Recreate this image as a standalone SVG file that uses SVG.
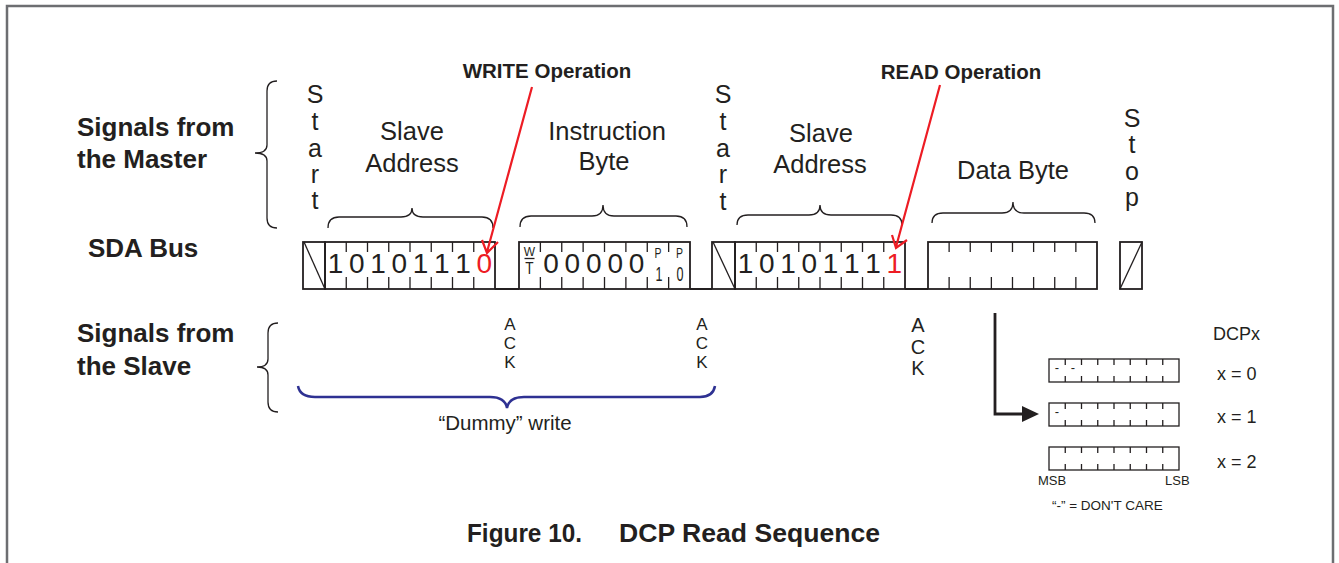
<svg xmlns="http://www.w3.org/2000/svg" width="1339" height="563" viewBox="0 0 1339 563">
<style>
  .t{font-family:"Liberation Sans",Arial,sans-serif;fill:#231f20}
  .b{font-weight:bold}
  .lbl{font-size:26px}
  .seg{font-size:25.5px;text-anchor:middle}
  .vl{font-size:25px;text-anchor:middle}
  .dg{font-size:28px;text-anchor:middle}
  .ack{font-size:17px;text-anchor:middle}
  .box{fill:none;stroke:#231f20;stroke-width:1.8}
  .tk{stroke:#231f20;stroke-width:1.3}
  .br{fill:none;stroke:#231f20;stroke-width:1.3}
  .red{fill:#ed1c24}
  .rl{fill:none;stroke:#ed1c24;stroke-width:2.2}
  .sm{fill:none;stroke:#231f20;stroke-width:1.3}
</style>
<defs>
  <path id="tk8a" d="M21.25,0v10M42.5,0v10M63.75,0v10M85,0v10M106.25,0v10M127.5,0v10M148.75,0v10M21.25,35v12M42.5,35v12M63.75,35v12M85,35v12M106.25,35v12M127.5,35v12M148.75,35v12"/>
  <path id="tks" d="M16.25,0v6M32.5,0v6M48.75,0v6M65,0v6M81.25,0v6M97.5,0v6M113.75,0v6M16.25,17v6M32.5,17v6M48.75,17v6M65,17v6M81.25,17v6M97.5,17v6M113.75,17v6"/>
</defs>

<g id="frame"><path d="M7,563V6H1333V563" fill="none" stroke="#6d6e71" stroke-width="2.5"/></g>

<g id="left-labels">
  <text class="t b lbl" x="77" y="136">Signals from</text>
  <text class="t b lbl" x="77" y="168">the Master</text>
  <text class="t b lbl" x="88" y="257">SDA Bus</text>
  <text class="t b lbl" x="77" y="342">Signals from</text>
  <text class="t b lbl" x="77" y="375">the Slave</text>
  <path class="br" d="M277,81Q267,81 267,91L267,145Q267,153 255,153Q267,153 267,161L267,218Q267,228 277,228"/>
  <path class="br" d="M278,323Q268,323 268,333L268,359Q268,367 257,367Q268,367 268,375L268,402Q268,412 278,412"/>
</g>

<g id="start1">
  <text class="t vl" x="315" y="103">S</text><text class="t vl" x="315" y="130">t</text><text class="t vl" x="315" y="157">a</text><text class="t vl" x="315" y="183">r</text><text class="t vl" x="315" y="209">t</text>
  <rect class="box" x="303" y="242" width="22" height="47"/>
  <line class="tk" x1="304" y1="242" x2="325" y2="289"/>
</g>

<g id="slave-address-1">
  <text class="t seg" x="412" y="140">Slave</text>
  <text class="t seg" x="412" y="172">Address</text>
  <path class="br" d="M328,228Q328,217 339,217L401,217Q412,217 412,208Q412,217 423,217L482,217Q493,217 493,228"/>
  <rect class="box" x="325" y="242" width="170" height="47"/>
  <use href="#tk8a" class="tk" transform="translate(325,242)"/>
  <g class="t dg">
    <text x="335.6" y="273">1</text><text x="356.9" y="273">0</text><text x="378.1" y="273">1</text><text x="399.4" y="273">0</text><text x="420.6" y="273">1</text><text x="441.9" y="273">1</text><text x="463.1" y="273">1</text><text class="red" x="484.4" y="273">0</text>
  </g>
</g>

<g id="instruction-byte">
  <text class="t seg" x="607" y="140">Instruction</text>
  <text class="t seg" x="604" y="170">Byte</text>
  <path class="br" d="M520,227Q520,216 531,216L592,216Q603,216 603,205Q603,216 614,216L676,216Q687,216 687,227"/>
  <rect class="box" x="519" y="242" width="171" height="47"/>
  <use href="#tk8a" class="tk" transform="translate(519,242) scale(1.006,1)"/>
  <text class="t" x="529.5" y="256" font-size="12" text-anchor="middle">W</text>
  <line class="tk" x1="524.5" y1="258.5" x2="534.5" y2="258.5" stroke-width="1"/>
  <text class="t" transform="translate(529.5,274) scale(0.85,1)" font-size="16" text-anchor="middle">T</text>
  <g class="t dg">
    <text x="551.1" y="273">0</text><text x="572.4" y="273">0</text><text x="593.8" y="273">0</text><text x="615.2" y="273">0</text><text x="636.6" y="273">0</text>
  </g>
  <text class="t" transform="translate(658,258) scale(0.75,1)" font-size="14" text-anchor="middle">P</text>
  <text class="t" transform="translate(659,281) scale(0.6,1)" font-size="21" text-anchor="middle">1</text>
  <text class="t" transform="translate(679.5,258) scale(0.75,1)" font-size="14" text-anchor="middle">P</text>
  <text class="t" transform="translate(680,281) scale(0.6,1)" font-size="21" text-anchor="middle">0</text>
</g>

<g id="start2">
  <text class="t vl" x="723" y="103">S</text><text class="t vl" x="723" y="130">t</text><text class="t vl" x="723" y="157">a</text><text class="t vl" x="723" y="183">r</text><text class="t vl" x="723" y="210">t</text>
  <rect class="box" x="712" y="242" width="23" height="47"/>
  <line class="tk" x1="713" y1="242" x2="735" y2="289"/>
</g>

<g id="slave-address-2">
  <text class="t seg" x="821" y="142">Slave</text>
  <text class="t seg" x="820" y="173">Address</text>
  <path class="br" d="M737,225Q737,215 748,215L809,215Q820,215 820,205Q820,215 831,215L891,215Q902,215 902,225"/>
  <rect class="box" x="735" y="242" width="170" height="47"/>
  <use href="#tk8a" class="tk" transform="translate(735,242)"/>
  <g class="t dg">
    <text x="745.6" y="273">1</text><text x="766.9" y="273">0</text><text x="788.1" y="273">1</text><text x="809.4" y="273">0</text><text x="830.6" y="273">1</text><text x="851.9" y="273">1</text><text x="873.1" y="273">1</text><text class="red" x="894.4" y="273">1</text>
  </g>
</g>

<g id="data-byte">
  <text class="t seg" x="1013" y="179">Data Byte</text>
  <path class="br" d="M932,223Q932,213 943,213L1002,213Q1013,213 1013,202Q1013,213 1024,213L1084,213Q1095,213 1095,223"/>
  <rect class="box" x="928" y="242" width="169" height="47"/>
  <use href="#tk8a" class="tk" transform="translate(928,242) scale(0.994,1)"/>
</g>

<g id="stop">
  <text class="t vl" x="1132" y="127">S</text><text class="t vl" x="1132" y="153">t</text><text class="t vl" x="1132" y="180">o</text><text class="t vl" x="1132" y="206">p</text>
  <rect class="box" x="1120" y="242" width="22" height="47"/>
  <line class="tk" x1="1120" y1="289" x2="1142" y2="242"/>
</g>

<g id="bus-low">
  <path class="box" d="M495,289H519M690,289H712M905,289H928"/>
</g>

<g id="acks">
  <g class="t ack"><text x="510" y="330">A</text><text x="510" y="349">C</text><text x="510" y="368">K</text></g>
  <g class="t ack"><text x="702" y="330">A</text><text x="702" y="349">C</text><text x="702" y="368">K</text></g>
  <g class="t ack"><text x="918" y="332" style="font-size:20px">A</text><text x="918" y="354" style="font-size:20px">C</text><text x="918" y="375" style="font-size:20px">K</text></g>
</g>

<g id="dummy-write">
  <path d="M298,386Q300,397 315,397L490,397Q505,397 507,408Q509,397 524,397L700,397Q713,397 715,386" fill="none" stroke="#2e3192" stroke-width="2.5"/>
  <text class="t" x="505" y="430" font-size="20.5" text-anchor="middle">“Dummy” write</text>
</g>

<g id="write-op">
  <text class="t b" x="547" y="78" font-size="20.5" text-anchor="middle">WRITE Operation</text>
</g>
<g id="read-op">
  <text class="t b" x="961" y="79" font-size="20.5" text-anchor="middle">READ Operation</text>
</g>

<g id="dcp-registers">
  <text class="t" x="1213" y="340" font-size="18">DCPx</text>
  <rect class="sm" x="1049" y="359" width="130" height="23"/>
  <use href="#tks" class="tk" transform="translate(1049,359)"/>
  <text class="t" x="1057" y="372" font-size="13" text-anchor="middle">-</text>
  <text class="t" x="1073" y="372" font-size="13" text-anchor="middle">-</text>
  <text class="t" x="1217" y="380" font-size="18">x = 0</text>
  <rect class="sm" x="1049" y="403" width="130" height="23"/>
  <use href="#tks" class="tk" transform="translate(1049,403)"/>
  <text class="t" x="1057" y="416" font-size="13" text-anchor="middle">-</text>
  <text class="t" x="1217" y="423" font-size="18">x = 1</text>
  <rect class="sm" x="1049" y="447" width="130" height="23"/>
  <use href="#tks" class="tk" transform="translate(1049,447)"/>
  <text class="t" x="1217" y="468" font-size="18">x = 2</text>
  <text class="t" x="1038" y="485" font-size="13">MSB</text>
  <text class="t" x="1165" y="485" font-size="13">LSB</text>
  <text class="t" x="1052" y="510" font-size="13.5">“-” = DON'T CARE</text>
</g>

<g id="connectors">
  <path class="rl" d="M532,87L487,252M482,240L487,253L498,242"/>
  <path class="rl" d="M940,85L896,247M892,235L896,248L907,240"/>
  <path d="M995,313V414H1024" fill="none" stroke="#231f20" stroke-width="2.8"/>
  <polygon points="1022,406 1039,414 1022,422" fill="#231f20"/>
</g>

<g id="caption">
  <text class="t b" x="467" y="542" font-size="25" textLength="115" lengthAdjust="spacingAndGlyphs">Figure 10.</text>
  <text class="t b" x="619" y="542" font-size="25.5" textLength="261" lengthAdjust="spacingAndGlyphs">DCP Read Sequence</text>
</g>
</svg>
